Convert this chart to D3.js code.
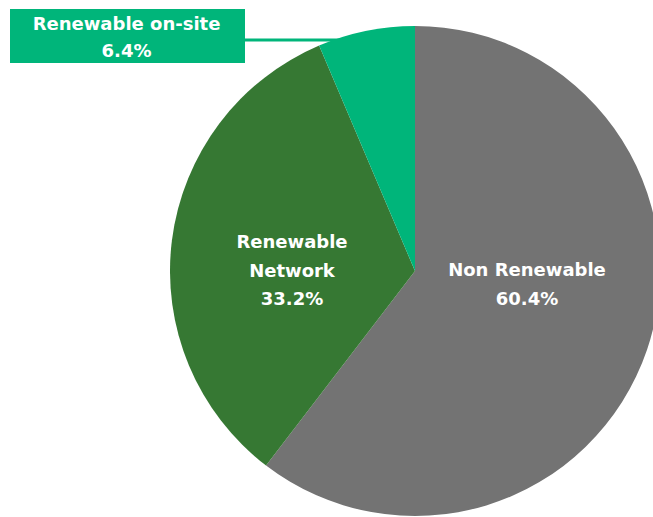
<!DOCTYPE html>
<html>
<head>
<meta charset="utf-8">
<script src="https://cdn.jsdelivr.net/npm/d3@7"></script>
<style>
  body { margin: 0; background: #fff; }
  svg text { font-family: "DejaVu Sans", sans-serif; font-weight: bold; fill: #fff; }
</style>
</head>
<body>
<svg id="canvas" width="653" height="517"></svg>
<script>
// chart data
let categories = ['Non Renewable', 'Renewable Network', 'Renewable on-site']
let shares = [60.4, 33.2, 6.4]
let sliceColors = ['#737373', '#367833', '#00b57a']

let canvas = d3.select('#canvas')

let cx = 415
let cy = 271
let radius = 245

let pie = d3.pie().sort(null).value((d) => d.value)
let arc = d3.arc().innerRadius(0).outerRadius(radius)

let slices = pie(categories.map((c, i) => {
    return { name: c, value: shares[i], color: sliceColors[i] }
}))

// callout box for the small slice
let boxX = 10, boxY = 9, boxW = 235, boxH = 54
let lineY = 40

canvas.append('line')
    .attr('x1', boxX + boxW - 1)
    .attr('x2', cx - 40)
    .attr('y1', lineY)
    .attr('y2', lineY)
    .attr('stroke', sliceColors[2])
    .attr('stroke-width', 3)

let g = canvas.append('g')
    .attr('transform', 'translate(' + cx + ',' + cy + ')')

g.selectAll('path')
    .data(slices)
    .enter()
    .append('path')
    .attr('d', arc)
    .attr('fill', (d) => d.data.color)

canvas.append('rect')
    .attr('x', boxX)
    .attr('y', boxY)
    .attr('width', boxW)
    .attr('height', boxH)
    .attr('fill', sliceColors[2])

let boxText = canvas.append('text')
    .attr('text-anchor', 'middle')
    .attr('font-size', 18)
boxText.append('tspan')
    .attr('x', boxX + boxW / 2 - 1)
    .attr('y', 30)
    .text(categories[2])
boxText.append('tspan')
    .attr('x', boxX + boxW / 2 - 1)
    .attr('y', 57)
    .text(shares[2].toFixed(1) + '%')

// in-slice labels
let labelLines = [
    { x: 527, y: 276, lines: ['Non Renewable', shares[0].toFixed(1) + '%'] },
    { x: 292, y: 248, lines: ['Renewable', 'Network', shares[1].toFixed(1) + '%'] }
]

labelLines.forEach((lab) => {
    let t = canvas.append('text')
        .attr('text-anchor', 'middle')
        .attr('font-size', 18)
    lab.lines.forEach((ln, i) => {
        t.append('tspan')
            .attr('x', lab.x)
            .attr('y', lab.y + i * 28.5)
            .text(ln)
    })
})
</script>
</body>
</html>
